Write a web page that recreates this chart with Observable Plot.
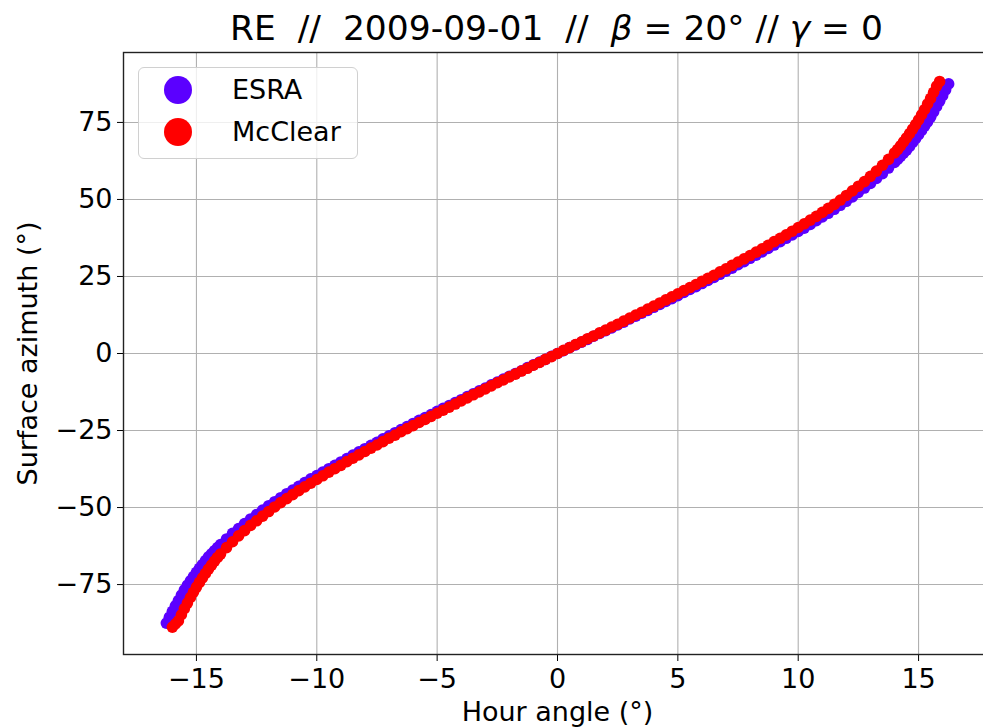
<!DOCTYPE html>
<html>
<head>
<meta charset="utf-8">
<script src="https://cdn.jsdelivr.net/npm/d3@7"></script>
<script src="https://cdn.jsdelivr.net/npm/@observablehq/plot@0.6"></script>
<style>
  html, body { margin: 0; padding: 0; background: #fff; }
  body { width: 983px; height: 728px; overflow: hidden; position: relative; font-family: "DejaVu Sans", sans-serif; color: #000; }
  #title { height: 46px; box-sizing: border-box; padding-top: 11px; padding-left: 130px; text-align: center;
           font-size: 34.5px; line-height: 34.5px; white-space: pre; }
  #legend { position: absolute; left: 138px; top: 67px; width: 220px; height: 92px; box-sizing: border-box;
            border: 1px solid #d0d0d0; border-radius: 6px; background: rgba(255,255,255,0.8); }
  .lg-dot { position: absolute; width: 28px; height: 28px; border-radius: 50%; }
  .lg-txt { position: absolute; font-size: 27px; line-height: 27px; white-space: pre; }
</style>
</head>
<body>
<div id="title">RE  //  2009-09-01  //  <i>β</i> = 20° // <i>γ</i> = 0</div>
<div id="chart"></div>
<div id="legend"></div>
<script>
// ---- data ----
const hourAngle = [
-16.25,-16.125,-16,-15.875,-15.75,-15.625,-15.5,-15.375,-15.25,-15.125,-15,-14.875,-14.75,-14.625,-14.5,-14.375,-14.25,-14.125,-14,
-13.75,-13.5,-13.25,-13,-12.75,-12.5,-12.25,-12,-11.75,-11.5,-11.25,-11,-10.75,-10.5,-10.25,-10,-9.75,-9.5,-9.25,-9,-8.75,-8.5,-8.25,-8,-7.75,-7.5,-7.25,-7,-6.75,-6.5,-6.25,-6,-5.75,-5.5,-5.25,-5,-4.75,-4.5,-4.25,-4,-3.75,-3.5,-3.25,-3,-2.75,-2.5,-2.25,-2,-1.75,-1.5,-1.25,-1,-0.75,-0.5,-0.25,
0,
0.25,0.5,0.75,1,1.25,1.5,1.75,2,2.25,2.5,2.75,3,3.25,3.5,3.75,4,4.25,4.5,4.75,5,5.25,5.5,5.75,6,6.25,6.5,6.75,7,7.25,7.5,7.75,8,8.25,8.5,8.75,9,9.25,9.5,9.75,10,10.25,10.5,10.75,11,11.25,11.5,11.75,12,12.25,12.5,12.75,13,13.25,13.5,13.75,
14,14.125,14.25,14.375,14.5,14.625,14.75,14.875,15,15.125,15.25,15.375,15.5,15.625,15.75,15.875,16,16.125,16.25
];
const esraAzimuth = [
-87.5,-85.6,-83.7,-81.9,-80.2,-78.4,-76.7,-75.2,-73.8,-72.4,-71.0,-69.7,-68.5,-67.2,-66.0,-65.0,-64.0,-63.0,-62.0,
-60.2,-58.4,-56.8,-55.2,-53.7,-52.3,-50.8,-49.4,-48.1,-46.8,-45.5,-44.3,-43.1,-41.9,-40.7,-39.6,-38.5,-37.4,-36.3,-35.2,-34.1,-33.0,-31.9,-30.9,-29.8,-28.8,-27.7,-26.7,-25.7,-24.7,-23.7,-22.7,-21.7,-20.8,-19.8,-18.8,-17.8,-16.9,-15.9,-15.0,-14.0,-13.1,-12.1,-11.2,-10.2,-9.3,-8.3,-7.4,-6.5,-5.6,-4.6,-3.7,-2.8,-1.9,-0.9,
0,
0.9,1.9,2.8,3.7,4.6,5.6,6.5,7.4,8.3,9.3,10.2,11.2,12.1,13.1,14.0,15.0,15.9,16.9,17.8,18.8,19.8,20.8,21.7,22.7,23.7,24.7,25.7,26.7,27.7,28.8,29.8,30.9,31.9,33.0,34.1,35.2,36.3,37.4,38.5,39.6,40.7,41.9,43.1,44.3,45.5,46.8,48.1,49.4,50.8,52.3,53.7,55.2,56.8,58.4,60.2,
62.0,63.0,64.0,65.0,66.0,67.2,68.5,69.7,71.0,72.4,73.8,75.2,76.7,78.4,80.2,81.9,83.7,85.6,87.5
];
const mcclearAzimuth = [
null,null,-88.8,-87.8,-86.8,-84.8,-82.8,-81.0,-79.2,-77.5,-75.8,-74.3,-72.8,-71.4,-70.0,-68.7,-67.4,-66.2,-65.1,
-63.0,-61.1,-59.2,-57.5,-55.8,-54.3,-52.8,-51.3,-49.8,-48.4,-47.1,-45.8,-44.5,-43.3,-42.1,-40.9,-39.7,-38.5,-37.4,-36.3,-35.1,-34.0,-32.9,-31.8,-30.7,-29.7,-28.6,-27.5,-26.5,-25.4,-24.4,-23.4,-22.4,-21.4,-20.4,-19.4,-18.4,-17.4,-16.4,-15.4,-14.4,-13.4,-12.5,-11.5,-10.5,-9.5,-8.6,-7.6,-6.7,-5.7,-4.8,-3.8,-2.9,-1.9,-1.0,
0,
1.0,1.9,2.9,3.8,4.8,5.7,6.7,7.6,8.6,9.5,10.5,11.5,12.5,13.4,14.4,15.4,16.4,17.4,18.4,19.4,20.4,21.4,22.4,23.4,24.4,25.4,26.5,27.5,28.6,29.7,30.7,31.8,32.9,34.0,35.1,36.3,37.4,38.5,39.7,40.9,42.1,43.3,44.5,45.8,47.1,48.4,49.8,51.3,52.8,54.3,55.8,57.5,59.2,61.1,63.0,
65.1,66.2,67.4,68.7,70.0,71.4,72.8,74.3,75.8,77.5,79.2,81.0,82.8,84.8,86.8,88.3,null,null,null
];
const seriesNames = ["ESRA", "McClear"];
const seriesColors = ["#5b00ff", "#ff0000"];
const xTicks = [-15, -10, -5, 0, 5, 10, 15];
const yTicks = [-75, -50, -25, 0, 25, 50, 75];
const xLabel = "Hour angle (°)";
const yLabel = "Surface azimuth (°)";

// ---- build tables ----
const esra = hourAngle.map((h, i) => ({h, az: esraAzimuth[i]})).filter(d => d.az != null);
const mcclear = hourAngle.map((h, i) => ({h, az: mcclearAzimuth[i]})).filter(d => d.az != null);

const chart = Plot.plot({
  width: 983,
  height: 682,
  marginLeft: 123,
  marginRight: -8,
  marginTop: 6,
  marginBottom: 74,
  style: {fontFamily: "DejaVu Sans", fontSize: "27px", color: "#000", background: "transparent", overflow: "visible"},
  x: {domain: [-18.03, 18.03], ticks: xTicks, tickSize: 7, tickPadding: 7, label: null},
  y: {domain: [-97.7, 97.7], ticks: yTicks, tickSize: 6, tickPadding: 5, label: null},
  marks: [
    Plot.ruleX(xTicks, {stroke: "#b0b0b0", strokeWidth: 1.1}),
    Plot.ruleY(yTicks, {stroke: "#b0b0b0", strokeWidth: 1.1}),
    Plot.dot(esra, {x: "h", y: "az", r: 5.8, fill: seriesColors[0], stroke: "none"}),
    Plot.dot(mcclear, {x: "h", y: "az", r: 5.8, fill: seriesColors[1], stroke: "none"}),
    Plot.frame({stroke: "#222", strokeWidth: 1.4}),
    Plot.text([xLabel], {text: d => d, frameAnchor: "bottom", textAnchor: "middle", lineAnchor: "bottom", dy: 66, fontSize: 27, fill: "#000"}),
    Plot.text([yLabel], {text: d => d, frameAnchor: "left", textAnchor: "middle", lineAnchor: "middle", dx: -95, rotate: -90, fontSize: 27, fill: "#000"})
  ]
});
document.getElementById("chart").appendChild(chart);

// ---- legend ----
const legend = document.getElementById("legend");
seriesNames.forEach((name, i) => {
  const cy = 22 + i * 41.5;
  const dot = document.createElement("div");
  dot.className = "lg-dot";
  dot.style.left = "25px";
  dot.style.top = (cy - 14) + "px";
  dot.style.background = seriesColors[i];
  legend.appendChild(dot);
  const t = document.createElement("div");
  t.className = "lg-txt";
  t.style.left = "93px";
  t.style.top = (cy - 14) + "px";
  t.textContent = name;
  legend.appendChild(t);
});
</script>
</body>
</html>
